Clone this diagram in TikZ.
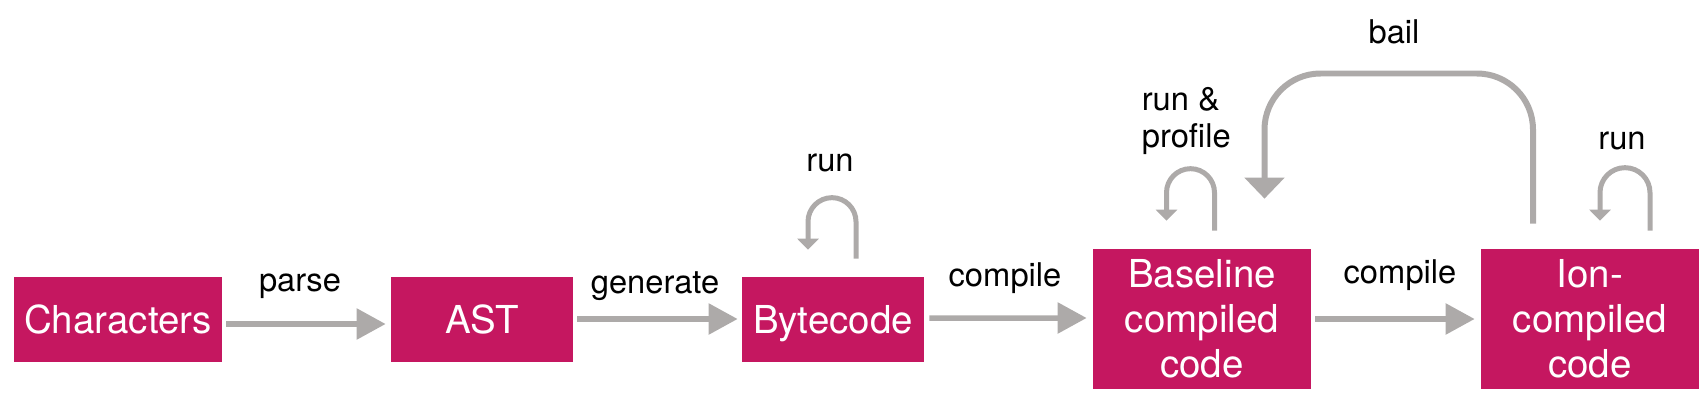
\documentclass[tikz,border=0pt]{standalone}
\usepackage{fontspec}
\setmainfont{TeX Gyre Heros}
\usetikzlibrary{arrows.meta}
\definecolor{boxmag}{HTML}{C51760}
\definecolor{arrgray}{HTML}{ADAAA9}
\tikzset{
  stage/.style={fill=boxmag, draw=none, text=white, inner sep=0pt, align=center,
    font=\fontsize{21.9}{25.6}\selectfont},
  onebox/.style={stage, minimum height=1.70cm, text depth=0pt},
  twobox/.style={stage, minimum height=2.80cm, minimum width=4.36cm},
  lbl/.style={inner sep=0pt, anchor=base, font=\fontsize{18.6}{21.6}\selectfont},
  bigarr/.style={draw=arrgray, line width=0.11cm, -{Triangle[length=0.58cm, width=0.60cm]}},
  looparr/.style={draw=arrgray, line width=0.10cm, -{Triangle[length=0.22cm, width=0.42cm]}},
  bailarr/.style={draw=arrgray, line width=0.12cm, rounded corners=1.12cm, -{Triangle[length=0.42cm, width=0.78cm]}},
}
\begin{document}
\begin{tikzpicture}[x=0.02cm, y=0.02cm]
\useasboundingbox (0,0) rectangle (1708,410);
% boxes
\node[onebox, minimum width=4.16cm] (chars) at (118,90.5) {Characters};
\node[onebox, minimum width=3.64cm] (ast) at (482,90.5) {AST};
\node[onebox, minimum width=3.64cm] (byte) at (833,90.5) {Bytecode};
\node[twobox] (base) at (1202,91) {Baseline\\compiled\\code};
\node[twobox] (ion) at (1590,91) {Ion-\\compiled\\code};
% straight arrows
\draw[bigarr] ([shift={(4,-4.5)}]chars.east) -- ([shift={(-5,-4.5)}]ast.west);
\draw[bigarr] ([shift={(4,0.5)}]ast.east) -- ([shift={(-4,0.5)}]byte.west);
\draw[bigarr] ([shift={(5,1.5)}]byte.east) -- ([shift={(-6,1)}]base.west);
\draw[bigarr] ([shift={(4,0)}]base.east) -- ([shift={(-6,0)}]ion.west);
% labels
\node[lbl] (lparse) at (300,119) {parse};
\node[lbl] (lgen) at (655,117) {generate};
\node[lbl] (lcomp1) at (1005,124) {compile};
\node[lbl] (lcomp2) at (1400,127) {compile};
% self loops
\draw[looparr] ([shift={(23,18)}]byte.north) -- ++(0,37)
  arc[start angle=0, end angle=180, radius=24] -- ++(0,-28);
\draw[looparr] ([shift={(12.5,18)}]base.north) -- ++(0,38)
  arc[start angle=0, end angle=180, radius=24] -- ++(0,-28);
\draw[looparr] ([shift={(60,18)}]ion.north) -- ++(0,38)
  arc[start angle=0, end angle=180, radius=25] -- ++(0,-28);
\node[lbl] (lrun1) at (830,239) {run};
\node[lbl, anchor=west, align=left] (lrunprof) at (1141.5,289) {run \&\\profile};
\node[lbl] (lrun2) at (1622,261) {run};
% bail
\coordinate (bailtop) at (1400,336.5);
\draw[bailarr] ([shift={(-57,25)}]ion.north) |- (bailtop) -| ([shift={(62.5,50)}]base.north);
\node[lbl] (lbail) at (1394,367) {bail};
\end{tikzpicture}
\end{document}
